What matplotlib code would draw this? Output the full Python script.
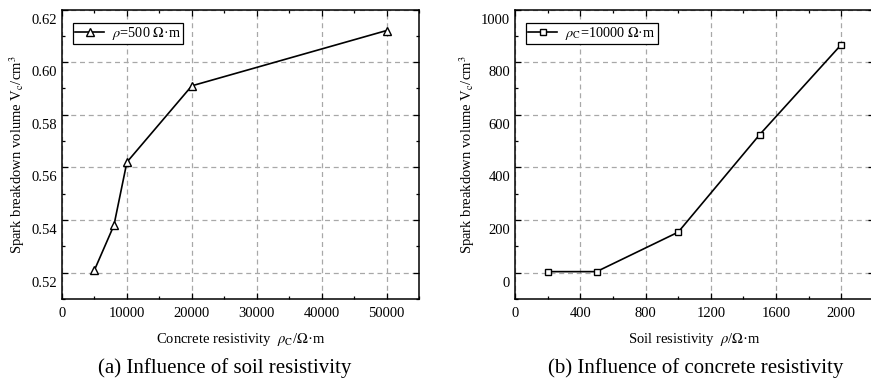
import numpy as np
import matplotlib.pyplot as plt
from matplotlib.ticker import MultipleLocator
from matplotlib.transforms import ScaledTranslation

plt.rcParams['font.family'] = ['Liberation Serif', 'DejaVu Serif']
plt.rcParams['mathtext.fontset'] = 'stix'

# (a) concrete resistivity vs volume, rho = 500
rho_c = [5000, 8000, 10000, 20000, 50000]
vol_a = [0.521, 0.538, 0.562, 0.591, 0.612]

# (b) soil resistivity vs volume, rho_C = 10000
rho_s = [200, 500, 1000, 1500, 2000]
vol_b = [4, 4, 154, 525, 867]

fig = plt.figure(figsize=(8.71, 3.8), dpi=100)
ax1 = fig.add_axes([62/871, 81/380, 357/871, 289.5/380])
ax2 = fig.add_axes([515/871, 81/380, 359/871, 289.5/380])

def habiller(ax):
    ax.grid(True, color='#a8a8a8', linestyle=(0, (4, 3)), linewidth=0.9)
    ax.set_axisbelow(True)
    ax.tick_params(which='both', direction='in', top=True, right=True, labelsize=10.5)
    ax.tick_params(which='major', length=4, width=0.9)
    ax.tick_params(axis='x', which='major', pad=6)
    ax.tick_params(which='minor', length=2.5, width=0.9)
    for s in ax.spines.values():
        s.set_linewidth(1.1)
    # les etiquettes de y sont decalees vers le bas dans l'original
    decalage = ScaledTranslation(0, -9/100, fig.dpi_scale_trans)
    for lab in ax.get_yticklabels():
        lab.set_transform(lab.get_transform() + decalage)

def legende(ax):
    leg = ax.legend(loc='upper left', fontsize=10.3, fancybox=False, edgecolor='k',
                    framealpha=1, handlelength=2.0, borderpad=0.15, borderaxespad=0,
                    handletextpad=0.6, bbox_to_anchor=(0.031, 0.955))
    leg.get_frame().set_linewidth(0.9)

ax1.plot(rho_c, vol_a, color='k', lw=1.2, marker='^', ms=5.5, mfc='white', mec='k',
         mew=1.0, label=r'$\rho$=500 $\Omega$·m')
ax1.set_xlim(0, 55000)
ax1.set_ylim(0.51, 0.62)
ax1.xaxis.set_major_locator(MultipleLocator(10000))
ax1.xaxis.set_minor_locator(MultipleLocator(5000))
ax1.set_yticks([0.52, 0.54, 0.56, 0.58, 0.60, 0.62])
ax1.set_yticklabels(['0.52', '0.54', '0.56', '0.58', '0.60', '0.62'])
ax1.yaxis.set_minor_locator(MultipleLocator(0.01))
habiller(ax1)
ax1.set_xlabel(r'Concrete resistivity  $\rho_{\rm C}$/$\Omega$·m', fontsize=10.5, labelpad=8)
ax1.set_ylabel(r'Spark breakdown volume V$_{\rm c}$/cm$^3$', fontsize=10.5, labelpad=3)
legende(ax1)

ax2.plot(rho_s, vol_b, color='k', lw=1.2, marker='s', ms=5, mfc='white', mec='k',
         mew=1.0, label=r'$\rho_{\rm C}$=10000 $\Omega$·m')
ax2.set_xlim(0, 2200)
ax2.set_ylim(-100, 1000)
ax2.xaxis.set_major_locator(MultipleLocator(400))
ax2.xaxis.set_minor_locator(MultipleLocator(200))
ax2.set_yticks([0, 200, 400, 600, 800, 1000])
ax2.set_yticklabels(['0', '200', '400', '600', '800', '1000'])
ax2.yaxis.set_minor_locator(MultipleLocator(100))
habiller(ax2)
ax2.set_xlabel(r'Soil resistivity  $\rho$/$\Omega$·m', fontsize=10.5, labelpad=8)
ax2.set_ylabel(r'Spark breakdown volume V$_{\rm c}$/cm$^3$', fontsize=10.5, labelpad=3)
legende(ax2)

fig.text(225/871, 1 - 368/380, '(a) Influence of soil resistivity', ha='center', va='center', fontsize=15)
fig.text(696/871, 1 - 368/380, '(b) Influence of concrete resistivity', ha='center', va='center', fontsize=15)

fig.savefig('out.png', dpi=100)
